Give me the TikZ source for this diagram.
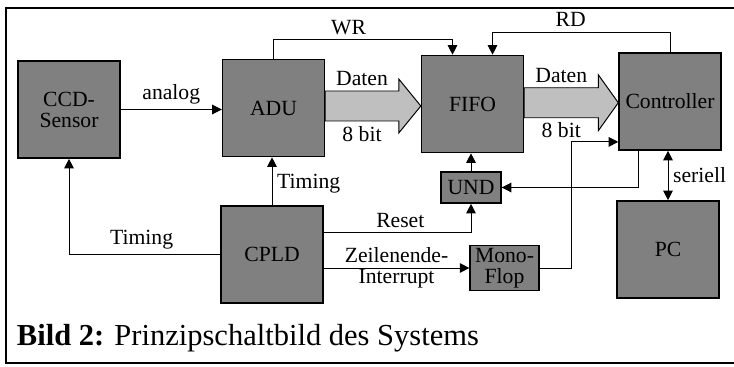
\documentclass[tikz,border=0pt]{standalone}
\usepackage{fontspec}
\setmainfont{Liberation Serif}
\usetikzlibrary{arrows.meta, positioning, calc}
\tikzset{
  box/.style={draw, line width=1pt, fill=black!50, align=center, inner sep=2pt, minimum width=2.55cm, minimum height=2.43cm},
  smallbox/.style={box, minimum width=1.5cm, minimum height=0.78cm},
  arr/.style={-{Triangle[length=2.4mm, width=2.4mm]}, line width=0.7pt},
  fat/.style={draw, line width=0.7pt, fill=black!25},
  frame/.style={line width=1.4pt, line cap=rect},
}

\begin{document}
\begin{tikzpicture}[x=0.025cm, y=-0.025cm, font=\fontsize{15.4}{15}\selectfont]
  \useasboundingbox (0,0) rectangle (734,367);
  \draw[frame] (734,8) -- (6,8) -- (6,363) -- (734,363);

  % blocks
  \node[box] (ccd) at (69,109.5) {CCD-\\Sensor};
  \node[box] (adu) at (273.5,108) {ADU};
  \node[box] (fifo) at (472.5,104) {FIFO};
  \node[box] (ctrl) at (670,101.5) {Controller};
  \node[smallbox] (und) at (471,187.5) {UND};
  \node[box] (cpld) at (272,254.5) {CPLD};
  \node[smallbox, minimum width=1.72cm, minimum height=1.1cm] (mono) at (504.5,268) {Mono-\\Flop};
  \node[box] (pc) at (668,249.5) {PC};

  % data paths
  \coordinate (d1) at ($(adu.east)!0.5!(fifo.west)$);
  \draw[fat] ($(adu.east |- d1)+(0,-15)$) -- node[above]{Daten} ($(fifo.west |- d1)+(-22,-15)$)
    -- ($(fifo.west |- d1)+(-22,-27)$) -- (fifo.west |- d1) -- ($(fifo.west |- d1)+(-22,27)$)
    -- ($(fifo.west |- d1)+(-22,15)$) -- node[below]{8 bit} ($(adu.east |- d1)+(0,15)$) -- cycle;
  \coordinate (d2) at ($(fifo.east)!0.5!(ctrl.west)$);
  \draw[fat] ($(fifo.east |- d2)+(0,-15)$) -- node[above]{Daten} ($(ctrl.west |- d2)+(-20,-15)$)
    -- ($(ctrl.west |- d2)+(-20,-28)$) -- (ctrl.west |- d2) -- ($(ctrl.west |- d2)+(-20,28)$)
    -- ($(ctrl.west |- d2)+(-20,15)$) -- node[below]{8 bit} ($(fifo.east |- d2)+(0,15)$) -- cycle;

  % signals
  \draw[arr] (ccd.east) -- node[above]{analog} (ccd.east -| adu.west);
  \draw[arr] (adu.north) -- ++(0,-19) -| node[pos=0.21, above]{WR} ([xshift=-0.5cm]fifo.north);
  \draw[arr] (ctrl.north) -- ++(0,-20) -| node[pos=0.28, above]{RD} ([xshift=0.5cm]fifo.north);
  \draw[arr] (cpld.north) -- node[pos=0.45, right]{Timing} (cpld.north |- adu.south);
  \draw[arr] (cpld.west) -| node[pos=0.26, above]{Timing} (ccd.south);
  \draw[arr] ([yshift=0.54cm]cpld.east) -| node[pos=0.26, above]{Reset} (und.south);
  \draw[arr] (cpld.east |- mono.west) -- node[midway, align=center]{Zeilenende-\\Interrupt} (mono.west);
  \draw[arr] (mono.east) -- ++(32,0) |- ([yshift=-1.01cm]ctrl.west);
  \draw[arr] ([xshift=-0.78cm]ctrl.south) |- (und.east);
  \draw[arr] (und.north) -- (und.north |- fifo.south);
  \draw[arr, {Triangle[length=2.4mm, width=2.4mm]}-{Triangle[length=2.4mm, width=2.4mm]}] (pc.north) -- node[right]{seriell} (pc.north |- ctrl.south);

  % caption
  \node[anchor=base west, font=\fontsize{21.7}{24}\selectfont] (cap) at (12,345) {\textbf{Bild 2:} Prinzipschaltbild des Systems};
\end{tikzpicture}
\end{document}
